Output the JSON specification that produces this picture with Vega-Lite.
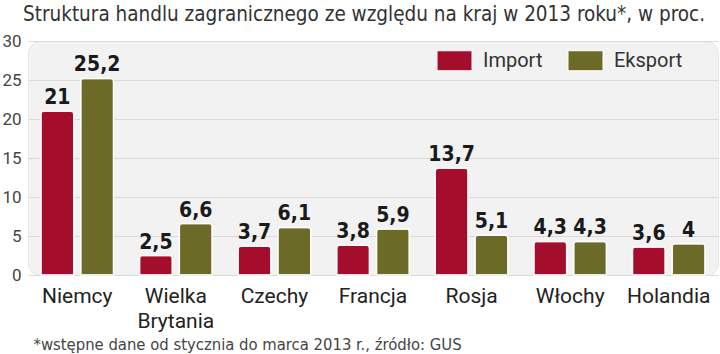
{
  "$schema": "https://vega.github.io/schema/vega-lite/v6.json",
  "autosize": "none",
  "width": 690,
  "height": 234,
  "padding": {"left": 28, "top": 41, "right": 2, "bottom": 79},
  "background": "#ffffff",
  "title": {
    "text": "Struktura handlu zagranicznego ze względu na kraj w 2013 roku*, w proc.",
    "anchor": "start",
    "frame": "group",
    "dx": -5,
    "offset": 7,
    "font": "DejaVu Sans Condensed",
    "fontWeight": "normal",
    "fontSize": 20.5,
    "color": "#333333"
  },
  "data": {
    "values": [
      {"kraj": "Niemcy", "typ": "Import", "wartosc": 21},
      {"kraj": "Niemcy", "typ": "Eksport", "wartosc": 25.2},
      {"kraj": "Wielka Brytania", "typ": "Import", "wartosc": 2.5},
      {"kraj": "Wielka Brytania", "typ": "Eksport", "wartosc": 6.6},
      {"kraj": "Czechy", "typ": "Import", "wartosc": 3.7},
      {"kraj": "Czechy", "typ": "Eksport", "wartosc": 6.1},
      {"kraj": "Francja", "typ": "Import", "wartosc": 3.8},
      {"kraj": "Francja", "typ": "Eksport", "wartosc": 5.9},
      {"kraj": "Rosja", "typ": "Import", "wartosc": 13.7},
      {"kraj": "Rosja", "typ": "Eksport", "wartosc": 5.1},
      {"kraj": "Włochy", "typ": "Import", "wartosc": 4.3},
      {"kraj": "Włochy", "typ": "Eksport", "wartosc": 4.3},
      {"kraj": "Holandia", "typ": "Import", "wartosc": 3.6},
      {"kraj": "Holandia", "typ": "Eksport", "wartosc": 4}
    ]
  },
  "encoding": {
    "x": {
      "field": "kraj",
      "type": "nominal",
      "sort": null,
      "scale": {"paddingInner": 0.263, "paddingOuter": 0.131},
      "axis": {
        "title": "*wstępne dane od stycznia do marca 2013 r., źródło: GUS",
        "titleAnchor": "start",
        "titleAlign": "left",
        "titleBaseline": "middle",
        "titleX": 5,
        "titleY": 69,
        "titleFont": "DejaVu Sans Condensed",
        "titleFontWeight": "normal",
        "titleFontSize": 16.5,
        "titleColor": "#444444",
        "labelExpr": "split(datum.label, ' ')",
        "labelAngle": 0,
        "labelFont": "Roboto",
        "labelFontSize": 21,
        "labelColor": "#222222",
        "labelPadding": 10,
        "labelLineHeight": 25,
        "domain": false,
        "ticks": false
      }
    },
    "xOffset": {
      "field": "typ",
      "type": "nominal",
      "sort": ["Import", "Eksport"],
      "scale": {"paddingInner": 0.175, "paddingOuter": 0}
    },
    "y": {
      "field": "wartosc",
      "type": "quantitative",
      "scale": {"domain": [0, 30]},
      "axis": {
        "title": null,
        "values": [0, 5, 10, 15, 20, 25, 30],
        "labelFont": "Roboto",
        "labelFontSize": 17,
        "labelColor": "#444444",
        "labelPadding": 7,
        "domain": false,
        "ticks": false,
        "gridColor": "#d9d9d9",
        "gridWidth": 1.2
      }
    }
  },
  "layer": [
    {
      "mark": {
        "type": "bar",
        "cornerRadiusTopLeft": 3,
        "cornerRadiusTopRight": 3,
        "stroke": "#ffffff",
        "strokeWidth": 1.5,
        "strokeOpacity": 0.85
      },
      "encoding": {
        "color": {
          "field": "typ",
          "type": "nominal",
          "scale": {"domain": ["Import", "Eksport"], "range": ["#a50d2c", "#6b6a27"]},
          "legend": {
            "title": null,
            "orient": "none",
            "direction": "horizontal",
            "legendX": 406,
            "legendY": -1,
            "labelFont": "Roboto",
            "labelFontSize": 20,
            "labelColor": "#333333",
            "labelOffset": 8,
            "columnPadding": 22,
            "symbolOffset": 0,
            "symbolType": "M-0.875,-0.5L0.875,-0.5L0.875,0.5L-0.875,0.5Z",
            "symbolSize": 1600,
            "symbolStrokeColor": "#ffffff",
            "symbolStrokeWidth": 1,
            "symbolOpacity": 1
          }
        }
      }
    },
    {
      "mark": {
        "type": "text",
        "baseline": "bottom",
        "dy": -3,
        "font": "DejaVu Sans Condensed",
        "fontWeight": "bold",
        "fontSize": 21,
        "color": "#1a1a1a"
      },
      "encoding": {
        "text": {"field": "wartosc", "type": "quantitative", "format": ".1~f"}
      }
    }
  ],
  "config": {
    "locale": {"number": {"decimal": ",", "thousands": " ", "grouping": [3], "currency": ["", " zł"]}},
    "view": {"fill": "#f2f2f2", "stroke": "#e8e8e8", "cornerRadius": 12}
  }
}
